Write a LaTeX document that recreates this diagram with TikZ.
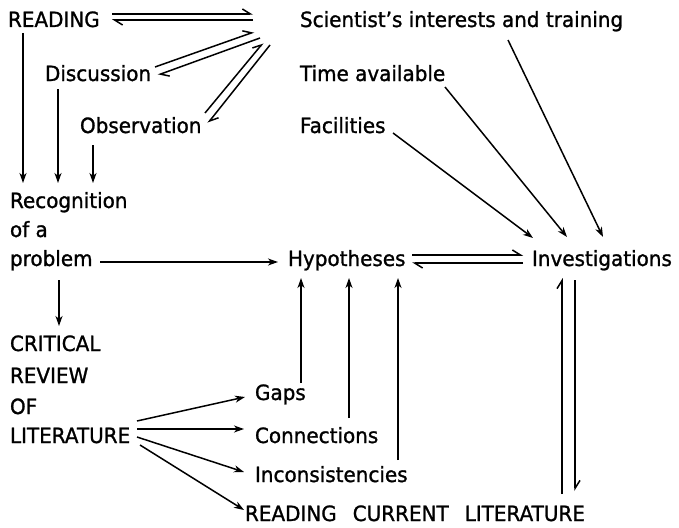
\documentclass[tikz,border=0pt]{standalone}
\usepackage{fontspec}
\setmainfont{DejaVu Sans}[FakeBold=1.2,FakeStretch=0.95]
\usetikzlibrary{arrows.meta,calc}
\begin{document}
\begin{tikzpicture}[x=1pt,y=-1pt,
  txt/.style={inner sep=0pt, outer sep=0pt, anchor=base west, font=\fontsize{21}{25}\selectfont},
  arr/.style={line width=1.5pt, -{Stealth[length=10pt,width=7pt,inset=3pt]}},
  harp/.style={line width=1.5pt, -{Straight Barb[harpoon,length=8pt,width=10pt]}}]
\useasboundingbox (0,0) rectangle (679,527);
% nodes
\node[txt] (read) at (8,27) {READING};
\node[txt] (sci) at (300,27) {Scientist's interests and training};
\node[txt] (disc) at (45,81) {Discussion};
\node[txt] (time) at (300,81) {Time available};
\node[txt] (obs) at (80,133) {Observation};
\node[txt] (fac) at (300,133) {Facilities};
\node[txt] (recA) at (10,208) {Recognition};
\node[txt] (recB) at (10,237) {of a};
\node[txt] (recC) at (10,266) {problem};
\node[txt] (hyp) at (288,266) {Hypotheses};
\node[txt] (inv) at (532,266) {Investigations};
\node[txt] (critA) at (10,351) {CRITICAL};
\node[txt] (critB) at (10,383) {REVIEW};
\node[txt] (critC) at (10,414) {OF};
\node[txt] (critD) at (10,443) {LITERATURE};
\node[txt] (gaps) at (255,400) {Gaps};
\node[txt] (conn) at (255,443) {Connections};
\node[txt] (inc) at (255,482) {Inconsistencies};
\node[txt] (rcl) at (245,521) {READING\hspace{16pt}CURRENT\hspace{16pt}LITERATURE};
% harpoon pairs
\draw[harp] ($(read.base west)+(104,-13)$) -- ($(sci.base west)+(-47,-13)$);
\draw[harp] ($(sci.base west)+(-47,-7)$) -- ($(read.base west)+(104,-7)$);
\draw[harp] ($(disc.base west)+(110,-14)$) -- ($(sci.base west)+(-46,5)$);
\draw[harp] ($(sci.base west)+(-40,11)$) -- ($(disc.base west)+(113,-6)$);
\draw[harp] ($(obs.base west)+(125,-20)$) -- ($(sci.base west)+(-37,16)$);
\draw[harp] ($(sci.base west)+(-30,18)$) -- ($(obs.base west)+(128,-10)$);
\draw[harp] ($(hyp.base west)+(124,-11)$) -- ($(inv.base west)+(-9,-11)$);
\draw[harp] ($(inv.base west)+(-9,-3)$) -- ($(hyp.base west)+(124,-3)$);
\draw[harp] ($(rcl.base west)+(317,-27)$) -- ($(inv.base west)+(30,12)$);
\draw[harp] ($(inv.base west)+(43,14)$) -- ($(rcl.base west)+(330,-30)$);
% single arrows
\draw[arr] ($(sci.base west)+(208,13)$) -- ($(inv.base west)+(71,-29)$);
\draw[arr] ($(time.base west)+(145,6)$) -- ($(inv.base west)+(35,-29)$);
\draw[arr] ($(fac.base west)+(93,0)$) -- ($(inv.base west)+(1,-28)$);
\draw[arr] ($(read.base west)+(15,6)$) -- ($(recA.base west)+(13,-25)$);
\draw[arr] ($(disc.base west)+(13,8)$) -- ($(recA.base west)+(48,-25)$);
\draw[arr] ($(obs.base west)+(13,12)$) -- ($(recA.base west)+(83,-25)$);
\draw[arr] ($(recC.base west)+(90,-4)$) -- ($(hyp.base west)+(-10,-4)$);
\draw[arr] ($(recC.base west)+(49,14)$) -- ($(critA.base west)+(49,-25)$);
\draw[arr] ($(gaps.base west)+(46,-17)$) -- ($(hyp.base west)+(13,12)$);
\draw[arr] ($(conn.base west)+(94,-25)$) -- ($(hyp.base west)+(61,12)$);
\draw[arr] ($(inc.base west)+(143,-22)$) -- ($(hyp.base west)+(110,12)$);
\draw[arr] ($(critD.base west)+(127,-22)$) -- ($(gaps.base west)+(-10,-3)$);
\draw[arr] ($(critD.base west)+(127,-14)$) -- ($(conn.base west)+(-11,-14)$);
\draw[arr] ($(critD.base west)+(127,-6)$) -- ($(inc.base west)+(-11,-10)$);
\draw[arr] ($(critD.base west)+(130,2)$) -- ($(rcl.base west)+(-1,-11)$);
\end{tikzpicture}
\end{document}
